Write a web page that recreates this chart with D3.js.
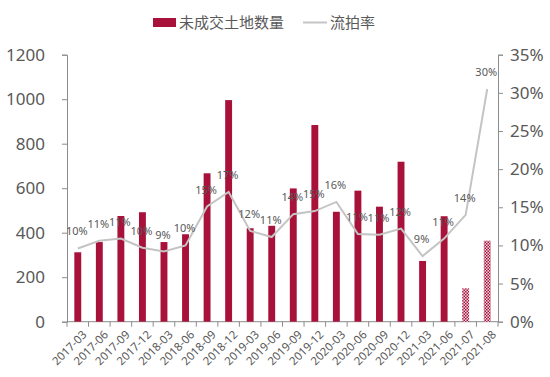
<!DOCTYPE html>
<html>
<head>
<meta charset="utf-8">
<script src="https://cdn.jsdelivr.net/npm/d3@7"></script>
<style>
  body { margin: 0; background: #fff; }
  text { font-family: "Noto Sans", "Noto Sans CJK SC", sans-serif; }
</style>
</head>
<body>
<div id="container"></div>
<script>
let w = 550;
let h = 377;

// DATA
let quarters = ["2017-03","2017-06","2017-09","2017-12","2018-03","2018-06","2018-09","2018-12",
  "2019-03","2019-06","2019-09","2019-12","2020-03","2020-06","2020-09","2020-12",
  "2021-03","2021-06","2021-07","2021-08"];
let unsold = [312, 358, 475, 492, 358, 393, 667, 996, 420, 431, 599, 884, 494, 589, 517, 719, 273, 474, 150, 364];
let failRate = [9.6, 10.6, 10.9, 9.7, 9.2, 10.0, 15.1, 17.0, 11.9, 11.1, 14.1, 14.5, 15.7, 11.5, 11.4, 12.2, 8.6, 10.9, 14.0, 30.5];
let rateLabels = ["10%","11%","11%","10%","9%","10%","15%","17%","12%","11%","14%","15%","16%","11%","11%","12%","9%","11%","14%","30%"];
let hatched = ["2021-07","2021-08"];
let leftTicks = [0, 200, 400, 600, 800, 1000, 1200];
let rightTicks = [0, 5, 10, 15, 20, 25, 30, 35];

let plotLeft = 67, plotRight = 498, plotTop = 54.7, plotBottom = 321.7;
let barColor = "#a8123a";
let lineColor = "#c4c4c4";
let textColor = "#595959";
let axisColor = "#8c8c8c";

let viz = d3.select("#container").append("svg")
    .attr("width", w)
    .attr("height", h)
;

// pattern for the hatched bars
let defs = viz.append("defs");
let pat = defs.append("pattern")
    .attr("id", "checker")
    .attr("width", 3).attr("height", 3)
    .attr("patternUnits", "userSpaceOnUse");
pat.append("rect").attr("width", 3).attr("height", 3).attr("fill", "#f3d6df");
pat.append("rect").attr("width", 1.5).attr("height", 1.5).attr("fill", barColor);
pat.append("rect").attr("x", 1.5).attr("y", 1.5).attr("width", 1.5).attr("height", 1.5).attr("fill", barColor);

// SCALES
let xScale = d3.scaleBand().domain(quarters).range([plotLeft, plotRight]).paddingInner(0.68).paddingOuter(0.34);
let yLeft = d3.scaleLinear().domain([0, 1200]).range([plotBottom, plotTop]);
let yRight = d3.scaleLinear().domain([0, 35]).range([plotBottom, plotTop]);

// AXES
let leftAxis = d3.axisLeft(yLeft).tickValues(leftTicks).tickSize(5).tickPadding(17)
    .tickFormat(d3.format("d"));
let rightAxis = d3.axisRight(yRight).tickValues(rightTicks).tickSize(5).tickPadding(7)
    .tickFormat(function(d){ return d + "%"; });

let gl = viz.append("g").attr("transform", "translate(" + plotLeft + ",0)").call(leftAxis);
let gr = viz.append("g").attr("transform", "translate(" + plotRight + ",0)").call(rightAxis);
[gl, gr].forEach(function(g){
  g.select(".domain").attr("stroke", axisColor);
  g.selectAll(".tick line").attr("stroke", axisColor);
  g.selectAll(".tick text").attr("fill", textColor).style("font-size", "17px");
});

// x axis: line with ticks at band boundaries
let step = xScale.step();
let boundaries = quarters.map(function(d){ return xScale(d) - xScale.paddingInner() * step / 2 ; });
boundaries.push(plotRight);
viz.append("line")
    .attr("x1", plotLeft).attr("x2", plotRight)
    .attr("y1", plotBottom).attr("y2", plotBottom)
    .attr("stroke", axisColor);
viz.selectAll(".xtick").data(boundaries).enter()
  .append("line")
    .attr("class", "xtick")
    .attr("x1", function(d){ return d; }).attr("x2", function(d){ return d; })
    .attr("y1", plotBottom).attr("y2", plotBottom + 5)
    .attr("stroke", axisColor);

viz.selectAll(".xlabel").data(quarters).enter()
  .append("text")
    .attr("class", "xlabel")
    .attr("text-anchor", "end")
    .attr("transform", function(d){
      return "translate(" + (xScale(d) + xScale.bandwidth() / 2 + 4) + "," + (plotBottom + 8) + ") rotate(-45)";
    })
    .attr("dy", "0.7em")
    .attr("fill", textColor)
    .style("font-size", "11.5px")
    .text(function(d){ return d; });

// BARS
viz.selectAll(".bar").data(quarters).enter()
  .append("rect")
    .attr("class", "bar")
    .attr("x", function(d){ return xScale(d); })
    .attr("width", xScale.bandwidth())
    .attr("y", function(d, i){ return yLeft(unsold[i]); })
    .attr("height", function(d, i){ return plotBottom - yLeft(unsold[i]); })
    .attr("fill", function(d){ return hatched.indexOf(d) >= 0 ? "url(#checker)" : barColor; });

// LINE
let lineMaker = d3.line()
    .x(function(d, i){ return xScale(quarters[i]) + xScale.bandwidth() / 2; })
    .y(function(d){ return yRight(d); });

viz.append("path")
    .datum(failRate)
    .attr("d", lineMaker)
    .attr("fill", "none")
    .attr("stroke", lineColor)
    .attr("stroke-width", 2);

viz.selectAll(".rlabel").data(failRate).enter()
  .append("text")
    .attr("class", "rlabel")
    .attr("text-anchor", "middle")
    .attr("x", function(d, i){ return xScale(quarters[i]) + xScale.bandwidth() / 2 - 1; })
    .attr("y", function(d){ return yRight(d) - 13; })
    .attr("fill", textColor)
    .style("font-size", "11px")
    .text(function(d, i){ return rateLabels[i]; });

// LEGEND
let legend = viz.append("g");
legend.append("rect").attr("x", 153).attr("y", 18).attr("width", 23).attr("height", 9).attr("fill", barColor);
legend.append("text").attr("x", 179).attr("y", 28).attr("fill", textColor).style("font-size", "15px")
    .text("未成交土地数量");
legend.append("line").attr("x1", 303).attr("x2", 327).attr("y1", 22.5).attr("y2", 22.5)
    .attr("stroke", lineColor).attr("stroke-width", 2);
legend.append("text").attr("x", 330).attr("y", 28).attr("fill", textColor).style("font-size", "15px")
    .text("流拍率");
</script>
</body>
</html>
